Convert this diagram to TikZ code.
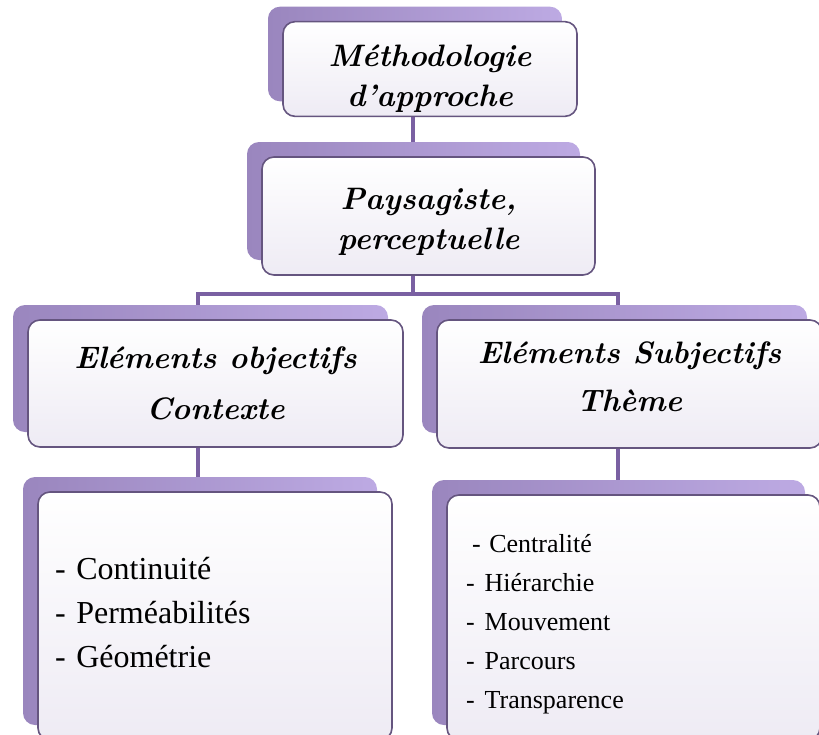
\documentclass[tikz,border=0pt]{standalone}
\usepackage{fontspec}
\newfontfamily\listfont{Liberation Serif}
\usepackage{tikz}
\usetikzlibrary{shadows,backgrounds}

\definecolor{linkpurple}{HTML}{7A60A2}
\definecolor{boxborder}{HTML}{65557F}
\definecolor{boxfill}{HTML}{EEEBF4}
\definecolor{shadowdark}{HTML}{9A86BE}
\definecolor{shadowlight}{HTML}{BDAAE3}

\begin{document}
\begin{tikzpicture}[
    x=1pt, y=-1pt,
    box/.style={rectangle, draw=boxborder, line width=1.6pt, top color=white, bottom color=boxfill, rounded corners=12pt, general shadow={shadow xshift=-15pt, shadow yshift=15pt, left color=shadowdark, right color=shadowlight}},
    head/.style={box, align=center, font=\fontsize{31}{40}\selectfont\bfseries\itshape},
    list/.style={box, align=left, inner xsep=17pt},
    link/.style={draw=linkpurple, line width=4pt}
]
\useasboundingbox (0,0) rectangle (819,734);

\node (meth) [head, minimum width=294pt, minimum height=88pt] at (430,69) {\rule{0pt}{42pt}Méthodologie\\d'approche};
\node (pays) [head, minimum width=333pt, minimum height=118pt] at (428.5,216) {\rule{0pt}{34pt}Paysagiste,\\perceptuelle};
\node (obj) [head, minimum width=375pt, minimum height=127pt, font=\fontsize{31}{51}\selectfont\bfseries\itshape] at (215.5,383.5) {Eléments objectifs\\Contexte};
\node (subj) [head, minimum width=385pt, minimum height=128pt, font=\fontsize{31}{48}\selectfont\bfseries\itshape] at (629.5,384) {Eléments Subjectifs\\Thème\rule[-14pt]{0pt}{1pt}};
\node (critobj) [list, minimum width=354pt, minimum height=248pt, text width=320pt, font=\listfont\fontsize{32}{44}\selectfont] at (215,616)
    {- Continuité\\- Perméabilités\\- Géométrie\rule[-8pt]{0pt}{1pt}};
\node (critsubj) [list, minimum width=373pt, minimum height=245pt, text width=335pt, inner xsep=19pt, font=\listfont\fontsize{26}{39}\selectfont] at (633.5,617.5)
    {\rule{0pt}{32pt}\hspace*{6pt}- Centralité\\-\hspace{10pt}Hiérarchie\\-\hspace{10pt}Mouvement\\-\hspace{10pt}Parcours\\-\hspace{10pt}Transparence};

% connectors behind the boxes
\begin{scope}[on background layer]
\draw[link] ([xshift=-17pt]meth.south) -- ([xshift=-17pt]meth.south |- pays.north);
\draw[link] ([xshift=-16pt]pays.south) -- ++(0,18) -| ([xshift=-18pt]obj.north);
\draw[link] ([xshift=-16pt]pays.south) -- ++(0,18) -| ([xshift=-12pt]subj.north);
\draw[link] ([xshift=-18pt]obj.south) -- ([xshift=-18pt]obj.south |- critobj.north);
\draw[link] ([xshift=-12pt]subj.south) -- ([xshift=-12pt]subj.south |- critsubj.north);
\end{scope}
\end{tikzpicture}
\end{document}
